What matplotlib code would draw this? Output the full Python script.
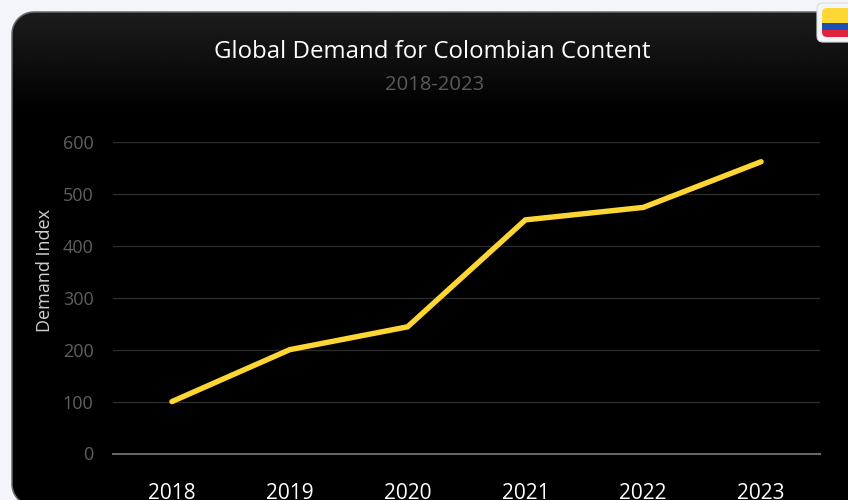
import numpy as np
import matplotlib
matplotlib.use("Agg")
import matplotlib.pyplot as plt
from matplotlib.patches import FancyBboxPatch, Rectangle, Polygon

years = ["2018", "2019", "2020", "2021", "2022", "2023"]
demand = [100, 200, 244, 450, 474, 562]
y_ticks = [0, 100, 200, 300, 400, 500, 600]

plt.rcParams['font.family'] = ['Open Sans', 'DejaVu Sans']

W, H = 848, 500
fig = plt.figure(figsize=(W / 100, H / 100), dpi=100, facecolor='#f4f5f8')

# background layer in pixel coords, y downwards
bg = fig.add_axes([0, 0, 1, 1])
bg.axis('off')


def card_outline(x0, y0, x1, y1, r):
    # only the two left corners show, the right side runs off the canvas
    t = np.linspace(0, np.pi / 2, 24)
    top = np.column_stack([x0 + r - r * np.cos(t), y0 + r - r * np.sin(t)])
    low = np.column_stack([x0 + r - r * np.sin(t), y1 - r + r * np.cos(t)])
    return np.vstack([top, [[x1, y0], [x1, y1]], low])


grad = (1 - np.linspace(0, 1, 256))[:, None] * 0.115
card_img = bg.imshow(grad, extent=[12, 860, 112, 12], cmap='gray', vmin=0, vmax=1,
                     aspect='auto', zorder=1)
bottom = bg.add_patch(Rectangle((12, 112), 848, 400, fc='black', ec='none', zorder=1))
bg.set_xlim(0, W)
bg.set_ylim(H, 0)
card = Polygon(card_outline(12, 12, 860, 506, 22), closed=True, fc='none',
               ec='#6a6a6a', lw=1.1, zorder=2)
bg.add_patch(card)
card_img.set_clip_path(card)
bottom.set_clip_path(card)

# flag badge
badge = FancyBboxPatch((817, 3), 60, 39, boxstyle="round,pad=0,rounding_size=6",
                       fc='#f4f5f8', ec='#dddddd', lw=0.8, zorder=3)
bg.add_patch(badge)
flag = FancyBboxPatch((822, 8), 50, 29, boxstyle="round,pad=0,rounding_size=5",
                      fc='none', ec='none', zorder=4)
bg.add_patch(flag)
for y0, h, col in [(8, 14.5, '#fdd835'), (22.5, 7.5, '#1e50b4'), (30, 7, '#e0243f')]:
    r = bg.add_patch(Rectangle((822, y0), 50, h, fc=col, ec='none', zorder=4))
    r.set_clip_path(flag)

# chart axes
left, right, top, base = 113, 820, 142, 453.5
ax = fig.add_axes([left / W, 1 - base / H, (right - left) / W, (base - top) / H])
ax.patch.set_alpha(0)
ax.plot(years, demand, color='#fdd633', lw=3.9, solid_capstyle='round',
        solid_joinstyle='miter', zorder=3)
ax.set_xlim(-0.5, 5.5)
ax.set_ylim(0, 600)
ax.set_yticks(y_ticks)
ax.grid(axis='y', color='#2b2b2b', lw=1)
ax.set_axisbelow(True)
for s in ['top', 'right', 'left']:
    ax.spines[s].set_visible(False)
ax.spines['bottom'].set_color('#666666')
ax.spines['bottom'].set_linewidth(1.5)
ax.tick_params(axis='both', length=0)
ax.tick_params(axis='y', labelcolor='#5f5f5f', labelsize=13, pad=14)
ax.tick_params(axis='x', labelcolor='#ffffff', labelsize=15, pad=21)
ax.set_ylabel("Demand Index", color='#d0d0d0', fontsize=13)
ax.yaxis.set_label_coords((54 - left) / (right - left), 0.589)

fig.text(432 / W, 1 - 52.5 / H, "Global Demand for Colombian Content", color='white',
         fontsize=17.3, ha='center', va='center')
fig.text(435 / W, 1 - 85 / H, "2018-2023", color='#5a5a5a', fontsize=14.6,
         ha='center', va='center')

fig.savefig("out.png", dpi=100, facecolor=fig.get_facecolor())
